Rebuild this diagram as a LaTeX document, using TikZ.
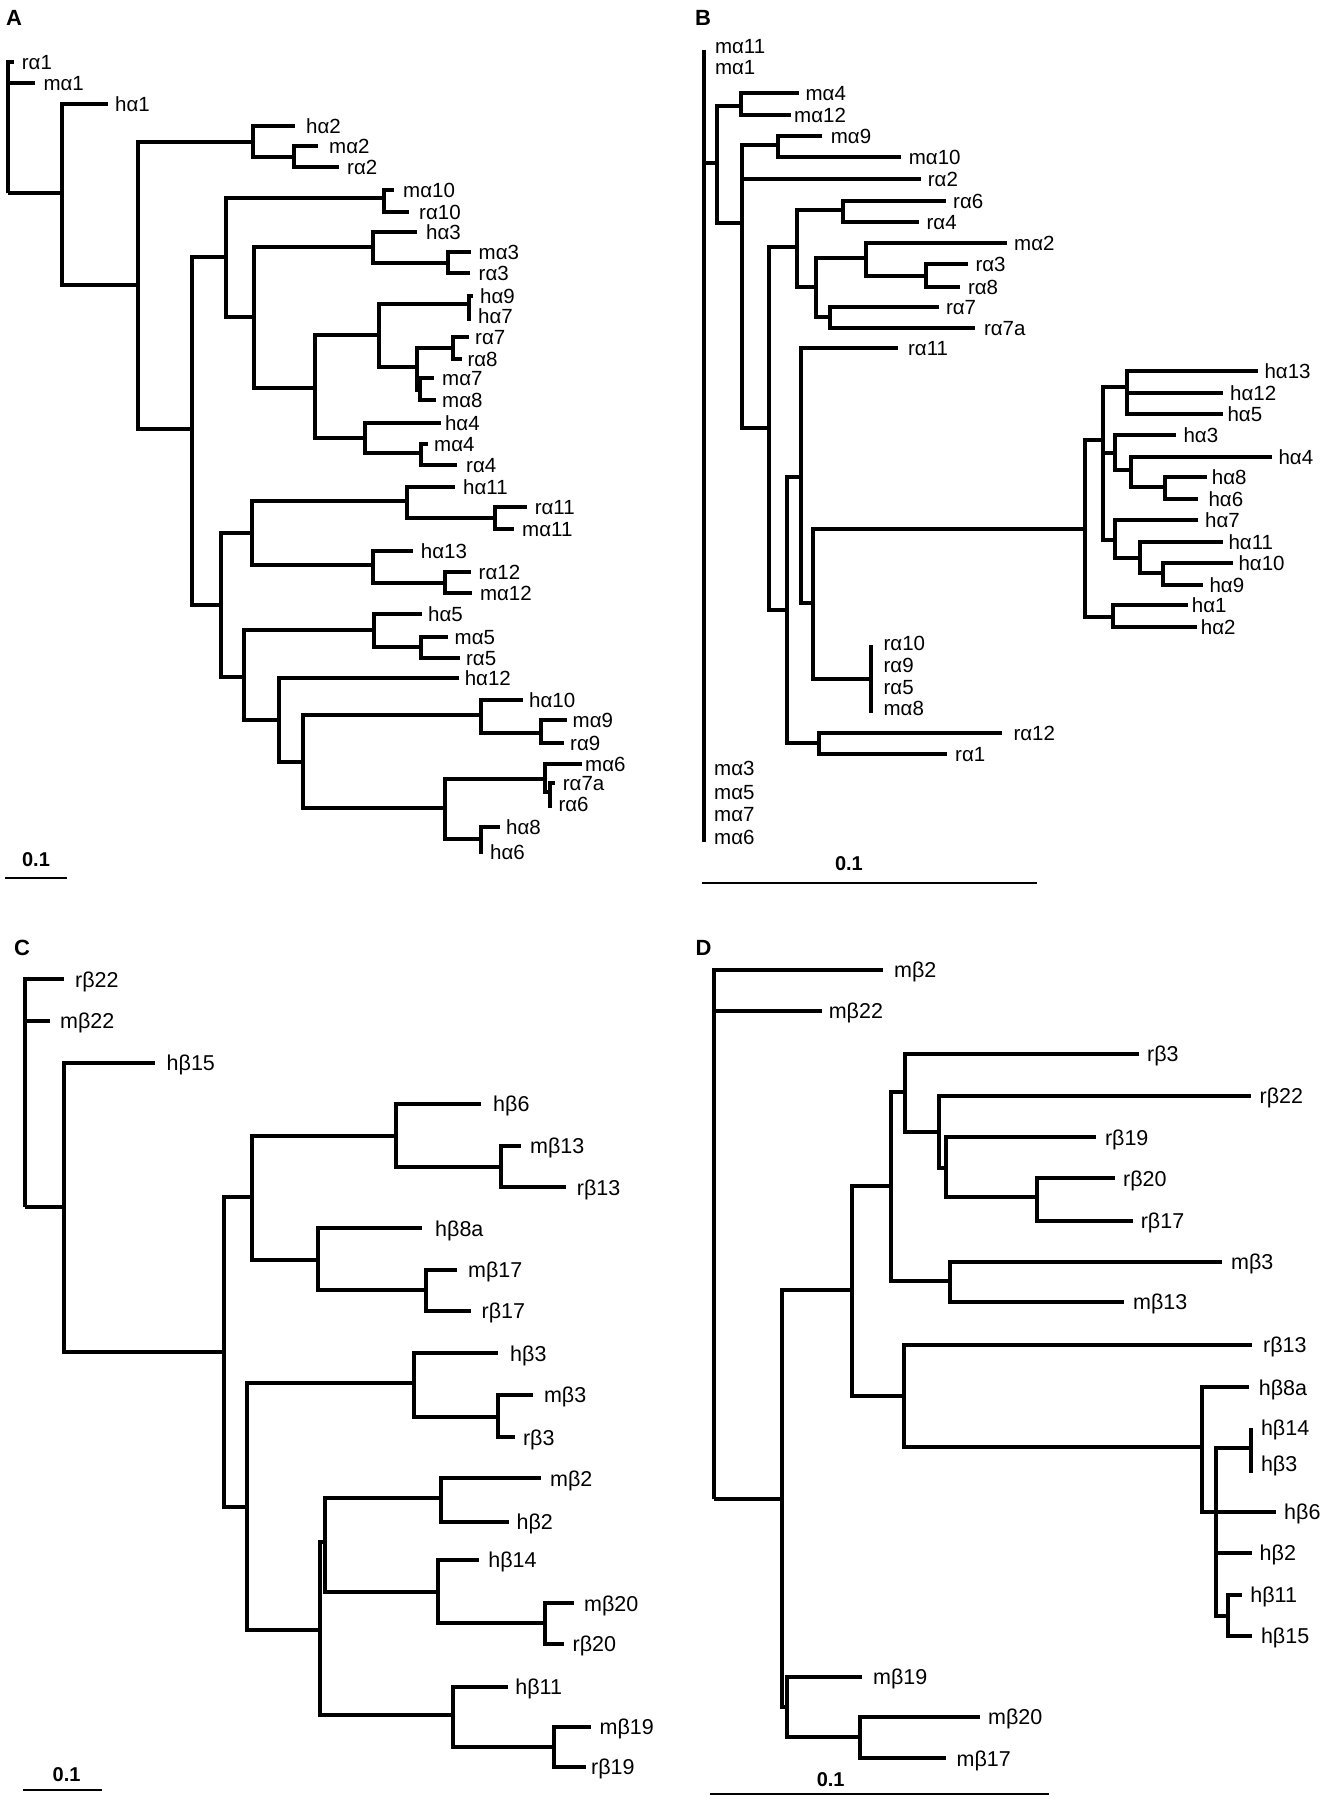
\documentclass[tikz,border=0pt]{standalone}
\usepackage{fontspec}
\setmainfont{Liberation Sans}
\tikzset{
  tr/.style={line width=4pt, line join=miter, line cap=butt},
  sb/.style={line width=2.3pt},
  labA/.style={anchor=west, inner sep=0pt, text height=14.7pt, text depth=0pt, font=\fontsize{20.5}{20.5}\selectfont},
  labC/.style={anchor=west, inner sep=0pt, text height=15.4pt, text depth=0pt, font=\fontsize{21.5}{21.5}\selectfont},
  pl/.style={inner sep=0pt, font=\bfseries\fontsize{22}{22}\selectfont},
  sl/.style={inner sep=0pt, font=\bfseries\fontsize{20}{20}\selectfont}
}
\newcommand\leafA[5]{\coordinate (#1) at (#2,#3); \node[labA] (#1t) at (#4,#3) {#5};}
\newcommand\leafC[5]{\coordinate (#1) at (#2,#3); \node[labC] (#1t) at (#4,#3) {#5};}
\begin{document}
\begin{tikzpicture}[x=1pt,y=-1pt]
\fill[white] (0,0) rectangle (1321,1800);
\useasboundingbox (0,0) rectangle (1321,1800);
% panel letters
\node[pl] (pA) at (14,18) {A};
\node[pl] (pB) at (703,18) {B};
\node[pl] (pC) at (22,948) {C};
\node[pl] (pD) at (703.5,948) {D};

% ================= Panel A =================
\coordinate (aR) at (7.5,193.3);
\leafA{aLr1}{14}{61.7}{21.7}{rα1}
\leafA{aLm1}{35}{82.7}{43.3}{mα1}
\coordinate (aX) at (61.7,193.3);
\leafA{aLh1}{108}{104}{115}{hα1}
\coordinate (aY) at (138,285);
\coordinate (aZ1) at (253,141.7);
\leafA{aLh2}{295}{125.7}{306}{hα2}
\coordinate (aN2) at (294,156.7);
\leafA{aLm2}{318}{145.7}{329}{mα2}
\leafA{aLr2}{339}{166.7}{347}{rα2}
\coordinate (aZ2) at (192,429);
\coordinate (aW1) at (226,256.7);
\coordinate (aN10) at (383.6,198.3);
\leafA{aLm10}{394}{190}{403}{mα10}
\leafA{aLr10}{409}{211.7}{419}{rα10}
\coordinate (aW3) at (254,316.7);
\coordinate (aN3) at (373,246.7);
\leafA{aLh3}{417}{231.7}{426}{hα3}
\coordinate (aN33) at (448,263.3);
\leafA{aLm3}{471}{251.7}{478.5}{mα3}
\leafA{aLr3}{470}{273.3}{478.5}{rα3}
\coordinate (aW4) at (315,388.3);
\coordinate (aW5) at (379,335);
\coordinate (aN97) at (469.3,304);
\leafA{aLh9}{472.7}{296}{480}{hα9}
\coordinate (aLh7) at (471,319.3);
\node[labA] (aLh7t) at (478,316) {hα7};
\coordinate (aW7) at (416.5,367.3);
\coordinate (aN78) at (452.7,348.3);
\leafA{aLr7}{469.3}{337.3}{475}{rα7}
\leafA{aLr8}{461.7}{359.3}{467.3}{rα8}
\coordinate (aN7m) at (420,390);
\leafA{aLm7}{434}{378.3}{442}{mα7}
\leafA{aLm8}{436}{400}{442}{mα8}
\coordinate (aW6) at (364.7,438.3);
\leafA{aLh4}{440.6}{423.3}{444.8}{hα4}
\coordinate (aN44) at (420.7,453.3);
\leafA{aLm4}{428}{444}{434}{mα4}
\leafA{aLr4}{457.4}{465}{466}{rα4}
\coordinate (aW2) at (221.3,605);
\coordinate (aV1) at (252,533.3);
\coordinate (aN11) at (406.8,501);
\leafA{aLh11}{455.3}{486.7}{463}{hα11}
\coordinate (aN1111) at (495.4,518.3);
\leafA{aLr11}{527}{507.3}{534.6}{rα11}
\leafA{aLm11}{513.5}{529.3}{522}{mα11}
\coordinate (aN13) at (373,565);
\leafA{aLh13}{413}{550.7}{420.7}{hα13}
\coordinate (aN12) at (444.8,582.7);
\leafA{aLr12}{471}{571.7}{478.5}{rα12}
\leafA{aLm12}{472}{593.3}{479.8}{mα12}
\coordinate (aV2) at (243.7,676.7);
\coordinate (aN5) at (374.4,630);
\leafA{aLh5}{421.6}{614.3}{428}{hα5}
\coordinate (aN55) at (420.7,646.7);
\leafA{aLm5}{447.7}{636.7}{454.5}{mα5}
\leafA{aLr5}{460.4}{658.3}{465.9}{rα5}
\coordinate (aV3) at (279,720);
\leafA{aLh12}{458.7}{678.3}{464.6}{hα12}
\coordinate (aV4) at (302.7,761.7);
\coordinate (aN10h) at (481.4,715);
\leafA{aLh10}{522.8}{700}{529}{hα10}
\coordinate (aN9) at (540.5,732.7);
\leafA{aLm9}{567}{720}{572.5}{mα9}
\leafA{aLr9}{564}{743.3}{570}{rα9}
\coordinate (aV5) at (444.8,808.3);
\coordinate (aM6) at (545,779.3);
\leafA{aLm6}{581.7}{764}{585}{mα6}
\coordinate (aN7a) at (550,791.7);
\leafA{aLr7a}{555}{783.3}{562.7}{rα7a}
\coordinate (aLr6) at (550,808.3);
\node[labA] (aLr6t) at (558.3,804) {rα6};
\coordinate (aN86) at (481.4,839.3);
\leafA{aLh8}{499.6}{827.3}{506}{hα8}
\leafA{aLh6}{483}{851.7}{490}{hα6}

\foreach \p/\c in {aR/aLr1, aR/aLm1, aR/aX, aX/aLh1, aX/aY, aY/aZ1, aY/aZ2,
  aZ1/aLh2, aZ1/aN2, aN2/aLm2, aN2/aLr2, aZ2/aW1, aZ2/aW2,
  aW1/aN10, aW1/aW3, aN10/aLm10, aN10/aLr10, aW3/aN3, aW3/aW4,
  aN3/aLh3, aN3/aN33, aN33/aLm3, aN33/aLr3, aW4/aW5, aW4/aW6,
  aW5/aN97, aW5/aW7, aN97/aLh9, aN97/aLh7, aW7/aN78, aW7/aN7m,
  aN78/aLr7, aN78/aLr8, aN7m/aLm7, aN7m/aLm8, aW6/aLh4, aW6/aN44,
  aN44/aLm4, aN44/aLr4, aW2/aV1, aW2/aV2, aV1/aN11, aV1/aN13,
  aN11/aLh11, aN11/aN1111, aN1111/aLr11, aN1111/aLm11,
  aN13/aLh13, aN13/aN12, aN12/aLr12, aN12/aLm12,
  aV2/aN5, aV2/aV3, aN5/aLh5, aN5/aN55, aN55/aLm5, aN55/aLr5,
  aV3/aLh12, aV3/aV4, aV4/aN10h, aV4/aV5, aN10h/aLh10, aN10h/aN9,
  aN9/aLm9, aN9/aLr9, aV5/aM6, aV5/aN86, aM6/aLm6, aM6/aN7a,
  aN7a/aLr7a, aN86/aLh8, aN86/aLh6}
  {\draw[tr] (\p) |- (\c);}
\draw[tr] (aN7a) -- (aLr6);
% scale bar A
\coordinate (aS1) at (5,878);
\coordinate (aS2) at (66.6,878);
\draw[sb] (aS1) -- (aS2);
\node[sl] (aSt) at (36,860) {0.1};

% ================= Panel B =================
\coordinate (bRoot) at (704.3,163.3);
\coordinate (bTop) at (704.3,50);
\coordinate (bBot) at (704.3,841.7);
\node[labA] (bLm11t) at (714.8,46) {mα11};
\node[labA] (bLm1t) at (714.8,67.3) {mα1};
\node[labA] (bLm3t) at (714,768.3) {mα3};
\node[labA] (bLm5t) at (714,791.7) {mα5};
\node[labA] (bLm7t) at (714,814) {mα7};
\node[labA] (bLm6t) at (714,836.7) {mα6};
\coordinate (bB1) at (716.9,163.3);
\coordinate (bN4) at (741,106);
\leafA{bLm4}{799}{92.7}{805.4}{mα4}
\leafA{bLm12}{790.7}{115}{794}{mα12}
\coordinate (bB2) at (742.2,222.7);
\coordinate (bN9) at (778,145);
\leafA{bLm9}{822.3}{136}{830.7}{mα9}
\leafA{bLm10}{901}{157.3}{908.7}{mα10}
\leafA{bLr2}{920.5}{179.3}{927.7}{rα2}
\coordinate (bB3) at (768.8,428.3);
\coordinate (bB4) at (797,247.3);
\coordinate (bN6) at (843.4,210);
\leafA{bLr6}{945.8}{200.7}{953}{rα6}
\leafA{bLr4}{919.3}{221.7}{926.4}{rα4}
\coordinate (bB6) at (816,287.3);
\coordinate (bB7) at (865.7,258.3);
\leafA{bLm2}{1006.5}{243.3}{1014}{mα2}
\coordinate (bN38) at (926.4,276);
\leafA{bLr3}{967.8}{264}{975.3}{rα3}
\leafA{bLr8}{960.2}{286.7}{967.8}{rα8}
\coordinate (bN77) at (829.5,317.3);
\leafA{bLr7}{939}{306.7}{945.8}{rα7}
\leafA{bLr7a}{975.3}{328.3}{983.8}{rα7a}
\coordinate (bB5) at (786.5,610);
\coordinate (bB8) at (801.2,476.7);
\leafA{bLr11}{898.2}{348.3}{907.9}{rα11}
\coordinate (bB9) at (812.6,602.7);
\coordinate (bRg) at (870.8,679.3);
\coordinate (bRgT) at (870.8,645);
\coordinate (bRgB) at (870.8,713.3);
\node[labA] (bLr10t) at (883.4,643.3) {rα10};
\node[labA] (bLr9t) at (883.4,665) {rα9};
\node[labA] (bLr5t) at (883.4,687.3) {rα5};
\node[labA] (bLm8t) at (883.4,708.3) {mα8};
\coordinate (bN121) at (819.4,742.7);
\leafA{bLr12}{1001.5}{732.7}{1013.3}{rα12}
\leafA{bLr1}{946.7}{754}{955}{rα1}
\coordinate (bH) at (1085,529);
\coordinate (bN12h) at (1112.7,616.7);
\leafA{bLh1}{1188.3}{605}{1191.7}{hα1}
\leafA{bLh2}{1197.3}{626.7}{1200.7}{hα2}
\coordinate (bH1) at (1103.3,440);
\coordinate (bN13) at (1126.7,386.7);
\leafA{bLh13}{1258.3}{370.7}{1264.3}{hα13}
\leafA{bLh12}{1223.3}{393.3}{1230}{hα12}
\leafA{bLh5}{1223.3}{414}{1227.3}{hα5}
\coordinate (bH2) at (1115,453.3);
\leafA{bLh3}{1176}{435}{1183.3}{hα3}
\coordinate (bN4h) at (1130.7,470);
\leafA{bLh4}{1271.7}{456.7}{1278.3}{hα4}
\coordinate (bN86) at (1165,486.7);
\leafA{bLh8}{1206.7}{476.7}{1211.7}{hα8}
\leafA{bLh6}{1198.3}{499.3}{1208.3}{hα6}
\coordinate (bH7) at (1115,540);
\leafA{bLh7}{1198.3}{520}{1205}{hα7}
\coordinate (bN11h) at (1140,558.3);
\leafA{bLh11}{1223.3}{541.7}{1228.3}{hα11}
\coordinate (bN109) at (1163.3,573.3);
\leafA{bLh10}{1233.3}{562.7}{1238.3}{hα10}
\leafA{bLh9}{1203.3}{585}{1209.3}{hα9}

\draw[tr] (bRoot) -- (bTop);
\draw[tr] (bRoot) -- (bBot);
\draw[tr] (bRg) -- (bRgT);
\draw[tr] (bRg) -- (bRgB);
\foreach \p/\c in {bRoot/bB1, bB1/bN4, bB1/bB2, bN4/bLm4, bN4/bLm12,
  bB2/bN9, bB2/bLr2, bB2/bB3, bN9/bLm9, bN9/bLm10, bB3/bB4, bB3/bB5,
  bB4/bN6, bB4/bB6, bN6/bLr6, bN6/bLr4, bB6/bB7, bB6/bN77,
  bB7/bLm2, bB7/bN38, bN38/bLr3, bN38/bLr8, bN77/bLr7, bN77/bLr7a,
  bB5/bB8, bB5/bN121, bN121/bLr12, bN121/bLr1, bB8/bLr11, bB8/bB9,
  bB9/bH, bB9/bRg, bH/bH1, bH/bN12h, bN12h/bLh1, bN12h/bLh2,
  bH1/bN13, bH1/bH2, bH1/bH7, bN13/bLh13, bN13/bLh12, bN13/bLh5,
  bH2/bLh3, bH2/bN4h, bN4h/bLh4, bN4h/bN86, bN86/bLh8, bN86/bLh6,
  bH7/bLh7, bH7/bN11h, bN11h/bLh11, bN11h/bN109, bN109/bLh10, bN109/bLh9}
  {\draw[tr] (\p) |- (\c);}
% scale bar B
\coordinate (bS1) at (702.2,883.3);
\coordinate (bS2) at (1037.3,883.3);
\draw[sb] (bS1) -- (bS2);
\node[sl] (bSt) at (848.9,863.3) {0.1};

% ================= Panel C =================
\coordinate (cR) at (24.5,1206.7);
\leafC{cLr22}{64}{979.3}{75}{rβ22}
\leafC{cLm22}{49.7}{1020.7}{60}{mβ22}
\coordinate (cC1) at (64,1206.7);
\leafC{cLh15}{155}{1062.7}{166.5}{hβ15}
\coordinate (cC2) at (224,1351.7);
\coordinate (cC3) at (252,1196.7);
\coordinate (cC5) at (395.5,1136);
\leafC{cLh6}{481.4}{1104}{493}{hβ6}
\coordinate (cN13) at (500.8,1167.3);
\leafC{cLm13}{520.7}{1146}{530}{mβ13}
\leafC{cLr13}{565.8}{1187.3}{576.7}{rβ13}
\coordinate (cC6) at (318.3,1260);
\leafC{cLh8a}{422.4}{1228.3}{435}{hβ8a}
\coordinate (cN17) at (425.8,1290);
\leafC{cLm17}{457.4}{1270}{468}{mβ17}
\leafC{cLr17}{471.3}{1310.7}{481.4}{rβ17}
\coordinate (cC4) at (246.6,1506.7);
\coordinate (cC7) at (414,1383.3);
\leafC{cLh3}{498.3}{1353.3}{510}{hβ3}
\coordinate (cN3) at (498.3,1416.7);
\leafC{cLm3}{533.3}{1395}{543.8}{mβ3}
\leafC{cLr3}{515.2}{1437.3}{522.8}{rβ3}
\coordinate (cC8) at (319.6,1630);
\coordinate (cC9) at (324.6,1541.7);
\coordinate (cN2) at (440.6,1498.3);
\leafC{cLm2}{540.5}{1478.3}{550}{mβ2}
\leafC{cLh2}{509.3}{1521.7}{516.4}{hβ2}
\coordinate (cN14) at (437.6,1591.7);
\leafC{cLh14}{478.5}{1560}{488.2}{hβ14}
\coordinate (cN20) at (544.7,1622.7);
\leafC{cLm20}{574.2}{1603.3}{583.9}{mβ20}
\leafC{cLr20}{564}{1644}{572.5}{rβ20}
\coordinate (cN11) at (453.2,1715);
\leafC{cLh11}{508}{1686.7}{515.2}{hβ11}
\coordinate (cN19) at (554.4,1746.7);
\leafC{cLm19}{591}{1726.7}{599.5}{mβ19}
\leafC{cLr19}{586}{1766.7}{591}{rβ19}

\foreach \p/\c in {cR/cLr22, cR/cLm22, cR/cC1, cC1/cLh15, cC1/cC2,
  cC2/cC3, cC2/cC4, cC3/cC5, cC3/cC6, cC5/cLh6, cC5/cN13,
  cN13/cLm13, cN13/cLr13, cC6/cLh8a, cC6/cN17, cN17/cLm17, cN17/cLr17,
  cC4/cC7, cC4/cC8, cC7/cLh3, cC7/cN3, cN3/cLm3, cN3/cLr3,
  cC8/cC9, cC8/cN11, cC9/cN2, cC9/cN14, cN2/cLm2, cN2/cLh2,
  cN14/cLh14, cN14/cN20, cN20/cLm20, cN20/cLr20,
  cN11/cLh11, cN11/cN19, cN19/cLm19, cN19/cLr19}
  {\draw[tr] (\p) |- (\c);}
% scale bar C
\coordinate (cS1) at (23.2,1790);
\coordinate (cS2) at (102,1790);
\draw[sb] (cS1) -- (cS2);
\node[sl] (cSt) at (66.6,1775) {0.1};

% ================= Panel D =================
\coordinate (dR) at (714,1499.3);
\leafC{dLm2}{883.4}{970}{894}{mβ2}
\leafC{dLm22}{822.3}{1010.7}{828.6}{mβ22}
\coordinate (dD1) at (782.3,1499.3);
\coordinate (dD3) at (787.3,1706.7);
\leafC{dLm19}{862.4}{1676.7}{872.9}{mβ19}
\coordinate (dN20) at (860.3,1737.3);
\leafC{dLm20}{980.4}{1716.7}{988}{mβ20}
\leafC{dLm17}{945.8}{1758.3}{956.4}{mβ17}
\coordinate (dD2) at (851.8,1290);
\coordinate (dD4) at (891,1186);
\coordinate (dN3) at (950,1280.7);
\leafC{dLm3}{1221.5}{1261.7}{1231}{mβ3}
\leafC{dLm13}{1123.7}{1301.7}{1133}{mβ13}
\coordinate (dD6) at (904.5,1091.7);
\leafC{dLr3}{1138.5}{1054}{1147}{rβ3}
\coordinate (dD7) at (939,1131.7);
\leafC{dLr22}{1251}{1096}{1259.5}{rβ22}
\coordinate (dD8) at (945.8,1168.3);
\leafC{dLr19}{1096.3}{1137.3}{1104.8}{rβ19}
\coordinate (dN2017) at (1037.3,1197.3);
\leafC{dLr20}{1115.3}{1178.3}{1123}{rβ20}
\leafC{dLr17}{1133}{1220.7}{1140.6}{rβ17}
\coordinate (dD5) at (903.7,1396);
\leafC{dLr13}{1252.3}{1345}{1262.9}{rβ13}
\coordinate (dDH) at (1201.7,1447.3);
\leafC{dLh8a}{1249.4}{1387.3}{1258.6}{hβ8a}
\coordinate (dDH2) at (1215.6,1511.7);
\coordinate (dN143) at (1251,1448.3);
\coordinate (dN143T) at (1251,1428.3);
\coordinate (dN143B) at (1251,1472.7);
\node[labC] (dLh14t) at (1260.8,1427.3) {hβ14};
\node[labC] (dLh3t) at (1260.8,1463.3) {hβ3};
\leafC{dLh6}{1276.4}{1511.7}{1284}{hβ6}
\leafC{dLh2}{1252.3}{1552.7}{1259.5}{hβ2}
\coordinate (dN1115) at (1228.3,1616);
\leafC{dLh11}{1241.8}{1595}{1250.2}{hβ11}
\leafC{dLh15}{1252.3}{1636}{1260.8}{hβ15}

\draw[tr] (dN143) -- (dN143T);
\draw[tr] (dN143) -- (dN143B);
\foreach \p/\c in {dR/dLm2, dR/dLm22, dR/dD1, dD1/dD2, dD1/dD3,
  dD3/dLm19, dD3/dN20, dN20/dLm20, dN20/dLm17, dD2/dD4, dD2/dD5,
  dD4/dD6, dD4/dN3, dN3/dLm3, dN3/dLm13, dD6/dLr3, dD6/dD7,
  dD7/dLr22, dD7/dD8, dD8/dLr19, dD8/dN2017, dN2017/dLr20, dN2017/dLr17,
  dD5/dLr13, dD5/dDH, dDH/dLh8a, dDH/dDH2,
  dDH2/dN143, dDH2/dLh6, dDH2/dLh2, dDH2/dN1115,
  dN1115/dLh11, dN1115/dLh15}
  {\draw[tr] (\p) |- (\c);}
% scale bar D
\coordinate (dS1) at (709.7,1794);
\coordinate (dS2) at (1048.7,1794);
\draw[sb] (dS1) -- (dS2);
\node[sl] (dSt) at (830.7,1779.3) {0.1};
\end{tikzpicture}
\end{document}
